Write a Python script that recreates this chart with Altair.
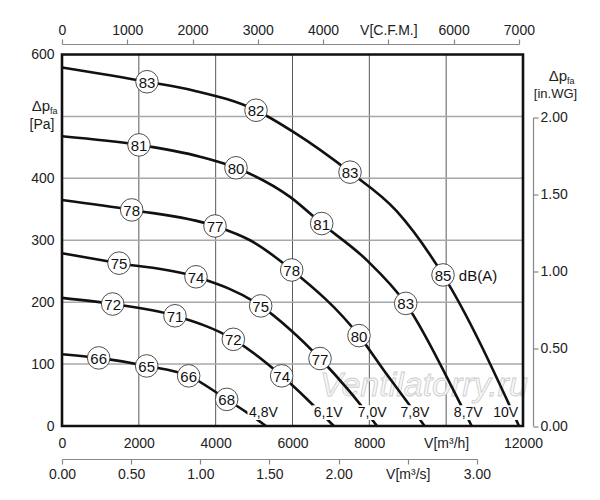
import altair as alt
import pandas as pd

FONT = "Liberation Sans"

# ---- axis settings (values) ----
q_max = 12000          # m3/h
p_max = 600            # Pa
q_ticks = [0, 2000, 4000, 6000, 8000, 10000, 12000]
p_ticks = [0, 100, 200, 300, 400, 600]
q_grid = [2000, 4000, 6000, 8000, 10000]
p_grid = [100, 200, 300, 400, 500]
cfm_ticks = [0, 1000, 2000, 3000, 4000, 5000, 6000, 7000]
inwg_ticks = [0, 0.5, 1.0, 1.5, 2.0]
m3s_ticks = [0, 0.5, 1.0, 1.5, 2.0, 2.5, 3.0]
M3H_PER_CFM = 1.69901
PA_PER_INWG = 249.089

# ---- fan curves: flow (m3/h) and pressure (Pa) ----
q_10v = [0, 2213, 3418, 5050, 6021, 7497, 8712, 9918, 11896]
p_10v = [579, 556, 542, 510, 475, 410, 347, 244, 0]
q_87v = [0, 2004, 3592, 4529, 5935, 6760, 7931, 8947, 10360, 10665]
p_87v = [468, 454, 435, 417, 370, 327, 268, 198, 37, 0]
q_78v = [0, 1814, 3983, 4894, 5979, 7731, 8400, 9030, 9440]
p_78v = [365, 349, 323, 300, 252, 146, 88, 35, 0]
q_70v = [0, 1484, 3488, 5172, 5935, 6716, 7470, 8200]
p_70v = [279, 263, 241, 194, 156, 109, 57, 0]
q_61v = [0, 1319, 2941, 4460, 5718, 6400, 7075]
p_61v = [207, 197, 178, 140, 81, 42, 0]
q_48v = [0, 955, 2204, 3297, 4287, 4807, 5310]
p_48v = [116, 110, 97, 81, 43, 22, 0]

# ---- noise level markers dB(A) ----
lab_q = [2213, 5050, 7497, 9918,
         2004, 4529, 6760, 8947,
         1814, 3983, 5979, 7731,
         1484, 3488, 5172, 6716,
         1319, 2941, 4460, 5718,
         955, 2204, 3297, 4287]
lab_p = [556, 510, 410, 244,
         454, 417, 327, 198,
         349, 323, 252, 146,
         263, 241, 194, 109,
         197, 178, 140, 81,
         110, 97, 81, 43]
lab_txt = ["83", "82", "83", "85",
           "81", "80", "81", "83",
           "78", "77", "78", "80",
           "75", "74", "75", "77",
           "72", "71", "72", "74",
           "66", "65", "66", "68"]

# ---- voltage labels ----
volt_txt = ["4,8V", "6,1V", "7,0V", "7,8V", "8,7V", "10V"]
volt_q = [5244, 6930, 8073, 9187, 10575, 11550]
volt_p = [21.5, 21.5, 21.5, 21.5, 21.5, 21.5]

W = 461
H = 371.5

rows = []
for name, qs, ps in [("10V", q_10v, p_10v), ("8,7V", q_87v, p_87v), ("7,8V", q_78v, p_78v),
                     ("7,0V", q_70v, p_70v), ("6,1V", q_61v, p_61v), ("4,8V", q_48v, p_48v)]:
    for i, (q, p) in enumerate(zip(qs, ps)):
        rows.append({"curve": name, "q": q, "p": p, "o": i})
curves_df = pd.DataFrame(rows)
lab_df = pd.DataFrame({"q": lab_q, "p": lab_p, "t": lab_txt})
volt_df = pd.DataFrame({"q": volt_q, "p": volt_p, "t": volt_txt})

xs = alt.Scale(domain=[0, q_max], nice=False, zero=False)
ys = alt.Scale(domain=[0, p_max], nice=False, zero=False)

ax_x = alt.Axis(values=q_ticks, format="d", domain=False, ticks=False, grid=False,
                labelFlush=False, labelOverlap=False,
                labelPadding=10, labelFontSize=14, labelFont=FONT, labelColor="#222",
                labelExpr="datum.value == 10000 ? 'V[m³/h]' : datum.label")
ax_y = alt.Axis(values=p_ticks, format="d", domain=False, ticks=False, grid=False,
                labelFlush=False, labelOverlap=False,
                labelPadding=8, labelFontSize=14, labelFont=FONT, labelColor="#222")


def X(field):
    return alt.X(field, scale=xs, title=None, axis=ax_x)


def Y(field):
    return alt.Y(field, scale=ys, title=None, axis=ax_y)


vgrid = alt.Chart(pd.DataFrame({"q": q_grid})).mark_rule(color="#5a5a5a", strokeWidth=1).encode(
    x=X("q:Q"))
hgrid = alt.Chart(pd.DataFrame({"p": p_grid})).mark_rule(color="#a8a8a8", strokeWidth=1.5).encode(
    y=Y("p:Q"))

water = alt.Chart(pd.DataFrame({"q": [9420], "p": [49], "t": ["Ventilatorry.ru"]})).mark_text(
    font=FONT, fontSize=34, fontStyle="italic", fill="#f8f8f8", stroke="#cccccc", strokeWidth=0.8,
    baseline="alphabetic", align="center"
).encode(x=X("q:Q"), y=Y("p:Q"), text="t:N")

lines = alt.Chart(curves_df).mark_line(color="#111", strokeWidth=2.6, interpolate="monotone").encode(
    x=X("q:Q"), y=Y("p:Q"), detail="curve:N", order="o:Q")

# white backing boxes behind the voltage labels (hide the curves there)
vbox = alt.Chart(volt_df).mark_point(
    shape="M-1,-0.46L1,-0.46L1,0.46L-1,0.46Z", filled=True, fill="white", stroke=None,
    size=1024, opacity=1
).encode(x=X("q:Q"), y=Y("p:Q"))

frame = alt.Chart(pd.DataFrame({"x0": [0], "x1": [q_max], "y0": [0], "y1": [p_max]})).mark_rect(
    filled=False, stroke="#111", strokeWidth=2.6
).encode(x=X("x0:Q"), x2="x1:Q", y=Y("y0:Q"), y2="y1:Q")

circles = alt.Chart(lab_df).mark_point(
    shape="circle", filled=True, fill="white", stroke="#222", strokeWidth=0.8, size=510, opacity=1
).encode(x=X("q:Q"), y=Y("p:Q"))

ctext = alt.Chart(lab_df).mark_text(font=FONT, fontSize=15, color="#111", baseline="middle", dy=1).encode(
    x=X("q:Q"), y=Y("p:Q"), text="t:N")

dba = alt.Chart(pd.DataFrame({"q": [10330], "p": [244], "t": ["dB(A)"]})).mark_text(
    font=FONT, fontSize=15, color="#111", align="left", baseline="middle", dy=1
).encode(x=X("q:Q"), y=Y("p:Q"), text="t:N")

vtext = alt.Chart(volt_df).mark_text(font=FONT, fontSize=14, color="#111", baseline="middle").encode(
    x=X("q:Q"), y=Y("p:Q"), text="t:N")


def label(txt, x, y, size, align="center"):
    return alt.Chart(pd.DataFrame({"t": [txt]})).mark_text(
        font=FONT, fontSize=size, color="#222", align=align, baseline="alphabetic"
    ).encode(x=alt.value(x), y=alt.value(y), text="t:N")


titles = [
    label("Δp", -21, 56, 15), label("fa", -12, 59.5, 9, "left"), label("[Pa]", -20, 74, 14),
    label("Δp", 496, 26, 15), label("fa", 505, 29.5, 9, "left"), label("[in.WG]", 493.5, 43, 13),
]

main = alt.layer(vgrid, hgrid, water, lines, vbox, frame, circles, ctext, dba, vtext, *titles)

axis_style = dict(domainColor="#888", tickColor="#888", tickSize=5, labelFontSize=14,
                  labelFont=FONT, labelColor="#222", grid=False, domainWidth=1.2, tickWidth=1.2,
                  labelFlush=False, labelOverlap=False)

top_axis = alt.Chart(pd.DataFrame({"v": cfm_ticks})).mark_point(opacity=0).encode(
    x=alt.X("v:Q", title=None,
            scale=alt.Scale(domain=[0, 7000], range=[0, W * 7000 * M3H_PER_CFM / q_max], nice=False),
            axis=alt.Axis(orient="top", values=cfm_ticks, format="d", offset=10.5, labelPadding=2,
                          labelExpr="datum.value == 5000 ? 'V[C.F.M.]' : datum.label", **axis_style)))

right_axis = alt.Chart(pd.DataFrame({"v": inwg_ticks})).mark_point(opacity=0).encode(
    y=alt.Y("v:Q", title=None,
            scale=alt.Scale(domain=[0, 2], range=[H, H - H * 2 * PA_PER_INWG / p_max], nice=False),
            axis=alt.Axis(orient="right", values=inwg_ticks, format=".2f", offset=10, labelPadding=2,
                          **axis_style)))

m3s_axis = alt.Chart(pd.DataFrame({"v": m3s_ticks})).mark_point(opacity=0).encode(
    x=alt.X("v:Q", title=None,
            scale=alt.Scale(domain=[0, 3], range=[0, W * 3 * 3600 / q_max], nice=False),
            axis=alt.Axis(orient="bottom", values=m3s_ticks, format=".2f", offset=33, labelPadding=3,
                          labelExpr="datum.value == 2.5 ? 'V[m³/s]' : datum.label", **axis_style)))

chart = alt.layer(main, top_axis, right_axis, m3s_axis).resolve_scale(
    x="independent", y="independent"
).properties(
    width=W, height=H,
    autosize=alt.AutoSizeParams(type="none"),
    padding={"left": 54, "top": 46.5, "right": 60, "bottom": 56},
).configure_view(stroke=None).configure(background="white")

chart.save("out.html", embed_options={"renderer": "svg", "actions": False})
